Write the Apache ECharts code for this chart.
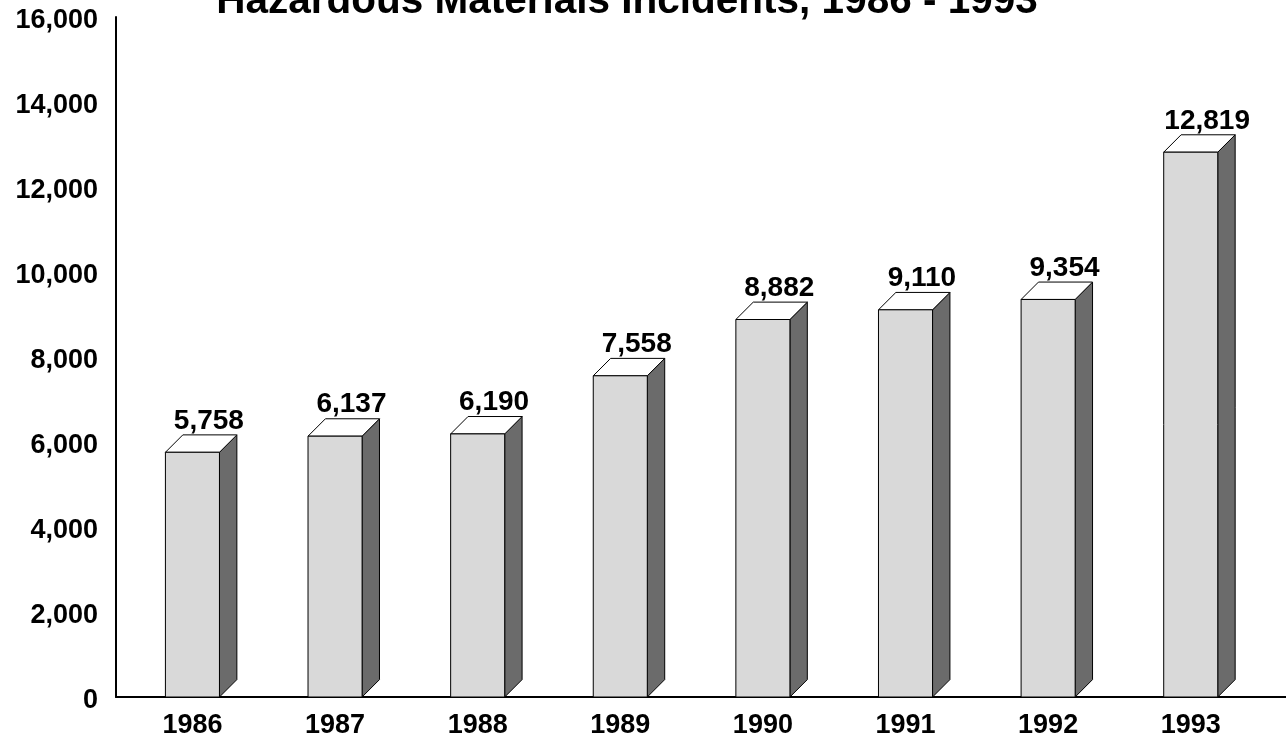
<!DOCTYPE html>
<html>
<head>
<meta charset="utf-8">
<script src="https://cdn.jsdelivr.net/npm/echarts@6/dist/echarts.min.js"></script>
<style>
html,body{margin:0;padding:0;background:#fff;}
#chart{width:1286px;height:740px;}
</style>
</head>
<body>
<div id="chart"></div>
<script>
var titleText = 'Hazardous Materials Incidents, 1986 - 1993';
var categories = ['1986', '1987', '1988', '1989', '1990', '1991', '1992', '1993'];
var incidents = [5758, 6137, 6190, 7558, 8882, 9110, 9354, 12819];
var yTicks = { min: 0, max: 16000, interval: 2000 };

var FONT = '"Liberation Sans", Arial, sans-serif';
function fmt(v) { return Number(v).toLocaleString('en-US'); }

var seriesData = incidents.map(function (v, i) { return [i, v]; });

function renderItem(params, api) {
  var x = api.value(0), v = api.value(1);
  var top = api.coord([x, v]);
  var base = api.coord([x, 0]);
  var cw = api.size([1, 0])[0];
  var w = cw * 0.379;
  var d = cw * 0.122;
  var xl = top[0] - w / 2, xr = top[0] + w / 2;
  var yt = top[1], yb = base[1];
  return {
    type: 'group',
    children: [
      { type: 'polygon', shape: { points: [[xr, yb], [xr + d, yb - d], [xr + d, yt - d], [xr, yt]] },
        style: { fill: '#6b6b6b', stroke: '#000', lineWidth: 1 } },
      { type: 'polygon', shape: { points: [[xl, yt], [xl + d, yt - d], [xr + d, yt - d], [xr, yt]] },
        style: { fill: '#ffffff', stroke: '#000', lineWidth: 1 } },
      { type: 'rect', shape: { x: xl, y: yt, width: w, height: yb - yt },
        style: { fill: '#d9d9d9', stroke: '#000', lineWidth: 1 } },
      { type: 'text', style: { text: fmt(v), x: top[0] + d - 1, y: yt - d, align: 'center', verticalAlign: 'bottom',
        font: 'bold 28px ' + FONT, fill: '#000' } }
    ]
  };
}

var chart = echarts.init(document.getElementById('chart'), null, { renderer: 'canvas' });
chart.setOption({
  animation: false,
  backgroundColor: '#fff',
  graphic: [{
    type: 'text',
    x: 627, y: -19,
    style: { text: titleText, align: 'center', verticalAlign: 'top', font: 'bold 40.5px ' + FONT, fill: '#000' }
  }],
  grid: { left: 116, right: 0, top: 17, bottom: 43, containLabel: false },
  xAxis: {
    type: 'value',
    min: -0.536, max: 7.668,
    axisLine: { show: true, onZero: false, lineStyle: { color: '#000', width: 2 } },
    axisTick: { show: false },
    splitLine: { show: false },
    axisLabel: {
      customValues: categories.map(function (c, i) { return i; }),
      formatter: function (v) { return categories[Math.round(v)]; },
      margin: 15, color: '#000', fontWeight: 'bold', fontSize: 27, fontFamily: FONT
    }
  },
  yAxis: {
    type: 'value',
    min: yTicks.min, max: yTicks.max, interval: yTicks.interval,
    axisLine: { show: true, onZero: false, lineStyle: { color: '#000', width: 2 } },
    axisTick: { show: false },
    splitLine: { show: false },
    axisLabel: {
      formatter: function (v) { return fmt(v); },
      margin: 18, color: '#000', fontWeight: 'bold', fontSize: 27, fontFamily: FONT,
      verticalAlign: 'top', lineHeight: 8
    }
  },
  series: [{
    type: 'custom',
    renderItem: renderItem,
    data: seriesData,
    clip: false,
    encode: { x: 0, y: 1 }
  }]
});
</script>
</body>
</html>
